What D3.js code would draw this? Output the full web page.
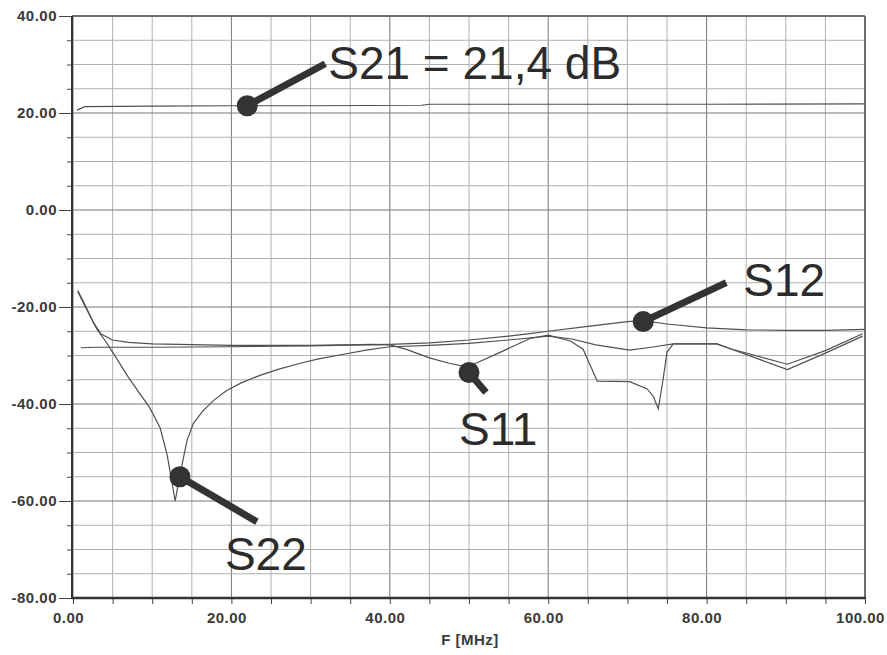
<!DOCTYPE html>
<html>
<head>
<meta charset="utf-8">
<script src="https://cdn.jsdelivr.net/npm/d3@7/dist/d3.min.js"></script>
<style>
  body { margin: 0; background: #fff; }
  svg { display: block; font-family: "Liberation Sans", Arial, sans-serif; }
  .tickLabel { font-weight: bold; font-size: 15px; fill: #3a3a3a; letter-spacing: 0.5px; }
  .callout { font-size: 46px; fill: #2b2b2b; }
</style>
</head>
<body>
<svg id="chart" width="887" height="655"></svg>
<script>
// S-parameter sweeps, frequency in MHz, magnitude in dB
const s21Freq = [0.5, 1.5, 10, 20, 30, 44, 45, 60, 80, 100];
const s21Db   = [20.6, 21.3, 21.4, 21.5, 21.5, 21.6, 21.8, 21.8, 21.8, 21.9];

const s12Freq = [1, 3, 10, 20, 30, 40, 45, 50, 55, 57.7, 60, 65, 70, 72, 75, 80, 85, 90, 95, 100];
const s12Db   = [-28.4, -28.3, -28.3, -28.2, -28.0, -27.7, -27.4, -26.8, -26.0, -25.5, -25.0, -24.0, -23.0, -22.8, -23.5, -24.3, -24.7, -24.8, -24.8, -24.6];

const s11Freq = [0.6, 1.5, 2.5, 3.5, 5, 7, 10, 20, 30, 38, 40, 42, 45, 47.5, 49.5, 51, 54, 57.7, 60,
                 62.8, 64.4, 65.3, 66.2, 70.3, 72.5, 73.3, 73.9, 74.5, 75, 75.8, 81.3, 83, 90.2, 95, 99.7];
const s11Db   = [-16.6, -19.5, -23.0, -25.5, -26.8, -27.3, -27.6, -27.9, -27.9, -27.7, -27.8, -28.7, -30.5, -31.6, -32.3, -31.5, -29.3, -26.5, -25.8,
                 -27.0, -28.7, -32.0, -35.3, -35.4, -36.9, -38.5, -41.0, -35.0, -29.3, -27.6, -27.6, -28.6, -32.9, -29.5, -26.0];

const s22Freq = [0.6, 1.5, 3, 4, 5, 7, 9.7, 11, 11.9, 12.9, 13.5, 14.4, 15.2, 16.4, 17.8, 19.4, 21.3, 23.6, 26, 28.7, 31, 34, 37, 40,
                 45, 50, 55, 60, 63, 66, 70.3, 73, 75.8, 81.3, 83, 90.2, 95, 99.7];
const s22Db   = [-16.8, -19.8, -24.5, -26.8, -29.3, -34.5, -40.8, -44.9, -50.6, -60.0, -54.6, -47.5, -44.0, -41.4, -39.2, -37.2, -35.6, -34.1, -32.8, -31.6, -30.7, -29.8, -28.9, -28.2,
                 -27.9, -27.5, -26.8, -26.0, -26.6, -27.8, -28.9, -28.3, -27.6, -27.6, -28.6, -31.8, -29.0, -25.5];

const xTickLabels = [0, 20, 40, 60, 80, 100];
const yTickLabels = [40, 20, 0, -20, -40, -60, -80];

// marker labels: which trace point they point to
const calloutNames = ['S21', 'S12', 'S11', 'S22'];
const calloutTexts = ['S21 = 21,4 dB', 'S12', 'S11', 'S22'];
const calloutFreq  = [22, 72, 50, 13.5];
const calloutDb    = [21.5, -23.0, -33.5, -55.0];

// layout of the call-outs (pixel offsets from the marker)
const calloutLayout = {
  S21: { lx: 78, ly: -42, tx: 81, ty: -27 },
  S12: { lx: 83, ly: -39, tx: 100, ty: -26 },
  S11: { lx: 17, ly: 20, tx: -10, ty: 73 },
  S22: { lx: 77, ly: 45, tx: 45, ty: 93 }
};

const svg = d3.select('#chart');
const plotLeft = 72, plotRight = 865, plotTop = 16, plotBottom = 598;

const x = d3.scaleLinear().domain([0, 100]).range([plotLeft + 1, plotRight]);
const y = d3.scaleLinear().domain([-80, 40]).range([plotBottom, plotTop]);

// grid every 5 units, darker on the labelled values
const gx = d3.range(0, 101, 5);
const gy = d3.range(-80, 41, 5);

svg.append('g').selectAll('line')
  .data(gx)
  .join('line')
  .attr('x1', d => x(d)).attr('x2', d => x(d))
  .attr('y1', plotTop).attr('y2', plotBottom)
  .attr('stroke', d => d % 20 === 0 ? '#777' : '#b0b0b0')
  .attr('stroke-width', 1);

svg.append('g').selectAll('line')
  .data(gy)
  .join('line')
  .attr('x1', plotLeft).attr('x2', plotRight)
  .attr('y1', d => y(d)).attr('y2', d => y(d))
  .attr('stroke', d => d % 20 === 0 ? '#777' : '#b0b0b0')
  .attr('stroke-width', 1);

// axes
const fmt = d => xTickLabels.includes(d) ? d.toFixed(2) : '';
const xAxis = svg.append('g')
  .attr('transform', `translate(0,${plotBottom})`)
  .call(d3.axisBottom(x).tickValues(gx).tickSize(6).tickPadding(8).tickFormat(fmt));
xAxis.select('.domain').remove();
xAxis.selectAll('line').attr('stroke', '#444');
xAxis.selectAll('text').attr('class', 'tickLabel').attr('dx', -5);
xAxis.attr('font-family', null).attr('font-size', null);

const yAxis = svg.append('g')
  .attr('transform', `translate(${plotLeft},0)`)
  .call(d3.axisLeft(y).tickValues(gy).tickSize(5).tickPadding(3)
    .tickFormat(d => yTickLabels.includes(d) ? d.toFixed(2) : ''));
yAxis.select('.domain').remove();
yAxis.selectAll('.tick line')
  .attr('stroke', '#444')
  .attr('x2', d => yTickLabels.includes(d) ? -13 : -5);
yAxis.selectAll('text').attr('class', 'tickLabel').attr('x', -15);
yAxis.attr('font-family', null).attr('font-size', null);

// frame
svg.append('line').attr('x1', plotLeft).attr('x2', plotRight).attr('y1', plotTop).attr('y2', plotTop)
  .attr('stroke', '#555').attr('stroke-width', 1.5);
svg.append('line').attr('x1', plotRight).attr('x2', plotRight).attr('y1', plotTop).attr('y2', plotBottom)
  .attr('stroke', '#555').attr('stroke-width', 1.5);
svg.append('line').attr('x1', plotLeft).attr('x2', plotLeft).attr('y1', plotTop).attr('y2', plotBottom + 1)
  .attr('stroke', '#333').attr('stroke-width', 2);
svg.append('line').attr('x1', plotLeft).attr('x2', plotRight + 1).attr('y1', plotBottom).attr('y2', plotBottom)
  .attr('stroke', '#333').attr('stroke-width', 2.5);

svg.append('text')
  .attr('class', 'tickLabel')
  .attr('x', 470).attr('y', 645)
  .attr('text-anchor', 'middle')
  .text('F [MHz]');

// traces
const line = d3.line().x(d => x(d[0])).y(d => y(d[1]));
const traces = [
  [s21Freq, s21Db],
  [s12Freq, s12Db],
  [s11Freq, s11Db],
  [s22Freq, s22Db]
];
svg.append('g').selectAll('path')
  .data(traces)
  .join('path')
  .attr('d', t => line(d3.zip(t[0], t[1])))
  .attr('fill', 'none')
  .attr('stroke', '#505050')
  .attr('stroke-width', 1.2);

// call-outs
const cg = svg.append('g');
calloutNames.forEach((name, i) => {
  const L = calloutLayout[name];
  const cx = x(calloutFreq[i]), cy = y(calloutDb[i]);
  cg.append('line')
    .attr('x1', cx).attr('y1', cy)
    .attr('x2', cx + L.lx).attr('y2', cy + L.ly)
    .attr('stroke', '#333').attr('stroke-width', 7);
  cg.append('circle')
    .attr('cx', cx).attr('cy', cy).attr('r', 10.5)
    .attr('fill', '#333');
  cg.append('text')
    .attr('class', 'callout')
    .attr('x', cx + L.tx).attr('y', cy + L.ty)
    .text(calloutTexts[i]);
});
</script>
</body>
</html>
